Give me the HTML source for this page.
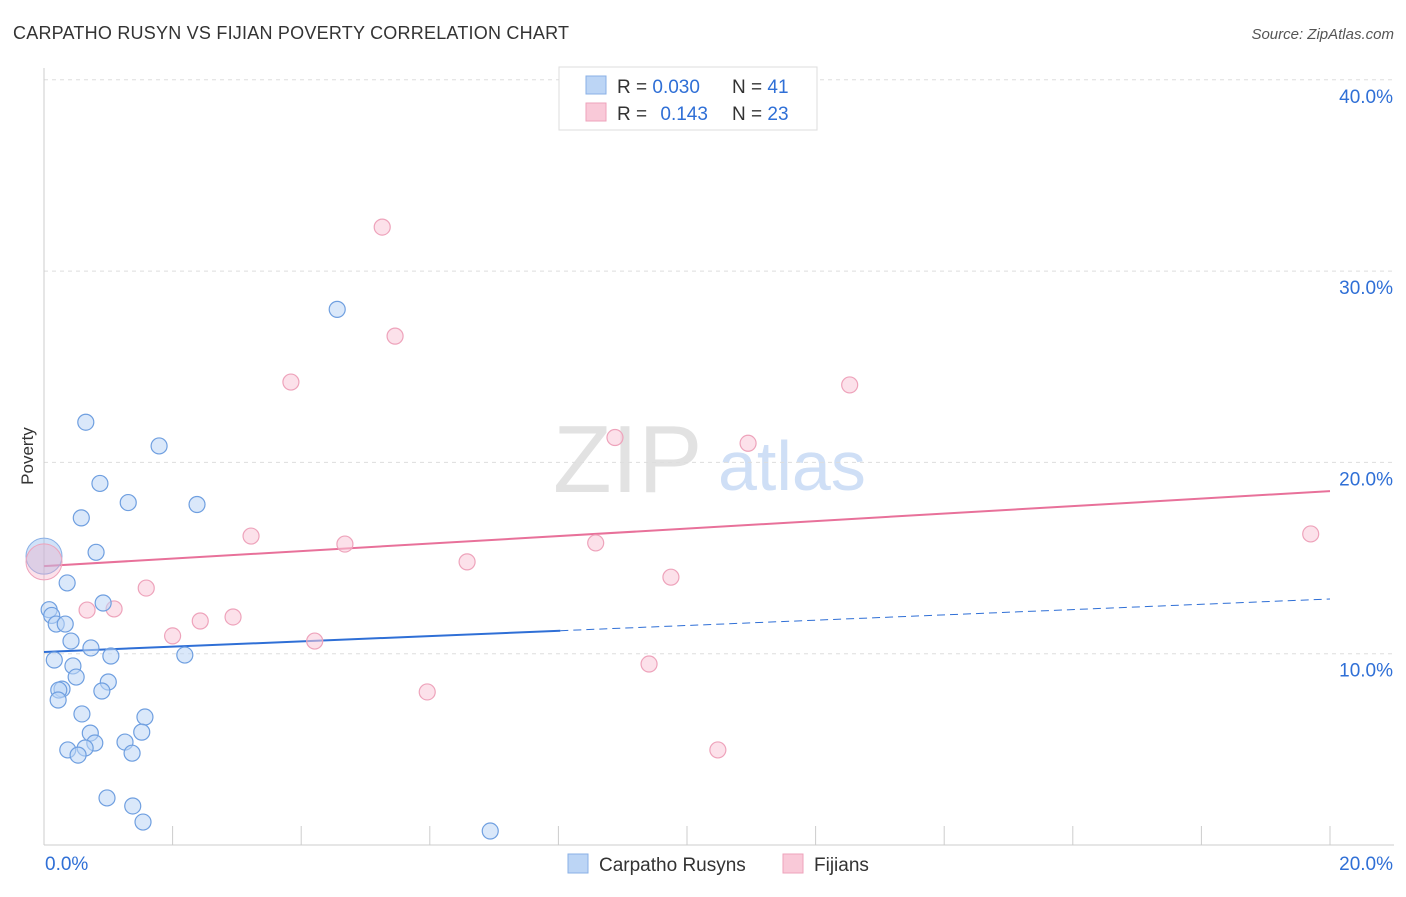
<!DOCTYPE html>
<html><head><meta charset="utf-8"><style>
body{margin:0;background:#fff;font-family:"Liberation Sans",sans-serif;}
svg text{font-family:"Liberation Sans",sans-serif;}
</style></head><body>
<svg id="chart" width="1406" height="892">
<text x="13" y="39" font-size="18" fill="#333" textLength="556">CARPATHO RUSYN VS FIJIAN POVERTY CORRELATION CHART</text>
<text x="1394" y="39" font-size="15" fill="#555" font-style="italic" text-anchor="end">Source: ZipAtlas.com</text>
<text x="33" y="456" font-size="17" fill="#333" transform="rotate(-90 33 456)" text-anchor="middle">Poverty</text>
<text x="553" y="492" font-size="96" fill="#e2e2e2" font-family="Liberation Serif">ZIP</text>
<text x="718" y="490" font-size="70" fill="#cfdff6">atlas</text>
<g id="grid"></g><g id="axes"></g><g id="lines"></g><g id="pts"></g>
<g>
<rect x="559" y="67" width="258" height="63" fill="#fff" stroke="#ddd"/>
<rect x="586" y="76" width="20" height="18" fill="#bcd5f5" stroke="#8ab0e6"/>
<rect x="586" y="103" width="20" height="18" fill="#f9c9d8" stroke="#eea3bb"/>
<text x="617" y="93" font-size="19" fill="#333">R = <tspan fill="#2f6fd6">0.030</tspan></text>
<text x="732" y="93" font-size="19" fill="#333">N = <tspan fill="#2f6fd6">41</tspan></text>
<text x="617" y="120" font-size="19" fill="#333">R = <tspan fill="#2f6fd6" dx="8">0.143</tspan></text>
<text x="732" y="120" font-size="19" fill="#333">N = <tspan fill="#2f6fd6">23</tspan></text>
</g>
<g>
<rect x="568" y="854" width="20" height="19" fill="#bcd5f5" stroke="#8ab0e6"/>
<text x="599" y="871" font-size="19" fill="#333">Carpatho Rusyns</text>
<rect x="783" y="854" width="20" height="19" fill="#f9c9d8" stroke="#eea3bb"/>
<text x="814" y="871" font-size="19" fill="#333">Fijians</text>
</g>
</svg>
<script>
const blueX=[4.56,0.65,1.79,0.87,1.31,2.38,0.58,0.81,0.36,0.92,0.08,0.12,0.19,0.33,0.42,0.73,1.04,2.19,0.16,0.45,0.5,1.0,0.28,0.23,0.9,0.22,0.59,1.57,0.72,1.52,0.79,1.26,0.37,0.64,0.53,1.37,0.98,1.38,1.54,6.94];
const blueY=[28.0,22.1,20.86,18.9,17.9,17.8,17.1,15.3,13.7,12.65,12.3,12.0,11.55,11.55,10.66,10.3,9.88,9.93,9.67,9.36,8.78,8.52,8.15,8.1,8.05,7.58,6.85,6.69,5.85,5.9,5.33,5.38,4.97,5.07,4.7,4.8,2.46,2.04,1.2,0.73];
const pinkX=[5.26,5.46,3.84,12.53,8.88,10.95,3.22,19.7,4.68,8.58,6.58,9.75,1.59,0.67,1.09,2.94,2.43,2.0,4.21,9.41,5.96,10.48];
const pinkY=[32.3,26.6,24.2,24.05,21.3,21.0,16.15,16.26,15.73,15.79,14.8,14.0,13.43,12.28,12.34,11.92,11.71,10.93,10.66,9.46,8.0,4.97];
const bigBlue=[0,15.1], bigPink=[0,14.8];
const blueTrend=[10.09,12.86], pinkTrend=[14.58,18.5];
const blueSolidEnd=8.03;
const yTicks=[10,20,30,40];
const xTickLabels=["0.0%","20.0%"];
const NS="http://www.w3.org/2000/svg";
const X=v=>44+v*64.3, Y=v=>845-v*19.13;
function mk(parent,tag,attrs){const e=document.createElementNS(NS,tag);for(const k in attrs)e.setAttribute(k,attrs[k]);document.getElementById(parent).appendChild(e);return e;}
yTicks.forEach(t=>{
 const l=mk('grid','line',{x1:44,x2:1394,y1:Y(t),y2:Y(t),stroke:'#ddd','stroke-dasharray':'4,4'});
 
 
 const tx=mk('grid','text',{x:1393,y:Y(t)+23,'font-size':19,fill:'#2f6fd6','text-anchor':'end'});
 tx.textContent=t.toFixed(1)+'%';
 
 
});
let a=mk('axes','line',{x1:44,x2:44,y1:68,y2:845,stroke:'#ccc'});


a=mk('axes','line',{x1:44,x2:1394,y1:845,y2:845,stroke:'#ccc'});


for(let i=1;i<=10;i++){const t=mk('axes','line',{x1:X(i*2),x2:X(i*2),y1:826,y2:845,stroke:'#ccc'});
 
 }
let xl=mk('axes','text',{x:45,y:870,'font-size':19,fill:'#2f6fd6'});xl.textContent=xTickLabels[0];


xl=mk('axes','text',{x:1393,y:870,'font-size':19,fill:'#2f6fd6','text-anchor':'end'});xl.textContent=xTickLabels[1];


const bm=blueTrend[0]+(blueTrend[1]-blueTrend[0])*blueSolidEnd/20;
let ln=mk('lines','line',{x1:X(0),y1:Y(blueTrend[0]),x2:X(blueSolidEnd),y2:Y(bm),stroke:'#2f6fd6','stroke-width':2});


ln=mk('lines','line',{x1:X(blueSolidEnd),y1:Y(bm),x2:X(20),y2:Y(blueTrend[1]),stroke:'#2f6fd6','stroke-width':1,'stroke-dasharray':'8,5'});


ln=mk('lines','line',{x1:X(0),y1:Y(pinkTrend[0]),x2:X(20),y2:Y(pinkTrend[1]),stroke:'#e8719a','stroke-width':2});


let c=mk('pts','circle',{cx:X(bigBlue[0]),cy:Y(bigBlue[1]),r:18,fill:'rgba(150,190,240,0.45)',stroke:'#8ab0e6'});


c=mk('pts','circle',{cx:X(bigPink[0]),cy:Y(bigPink[1]),r:18,fill:'rgba(245,170,195,0.35)',stroke:'#eea3bb'});


pinkX.forEach((v,i)=>{const p=mk('pts','circle',{cx:X(v),cy:Y(pinkY[i]),r:8,fill:'rgba(249,201,216,0.55)',stroke:'#eea3bb','stroke-width':1.2});
 
 });
blueX.forEach((v,i)=>{const p=mk('pts','circle',{cx:X(v),cy:Y(blueY[i]),r:8,fill:'rgba(188,213,245,0.55)',stroke:'#6f9fe0','stroke-width':1.2});
 
 });
</script>
</body></html>
